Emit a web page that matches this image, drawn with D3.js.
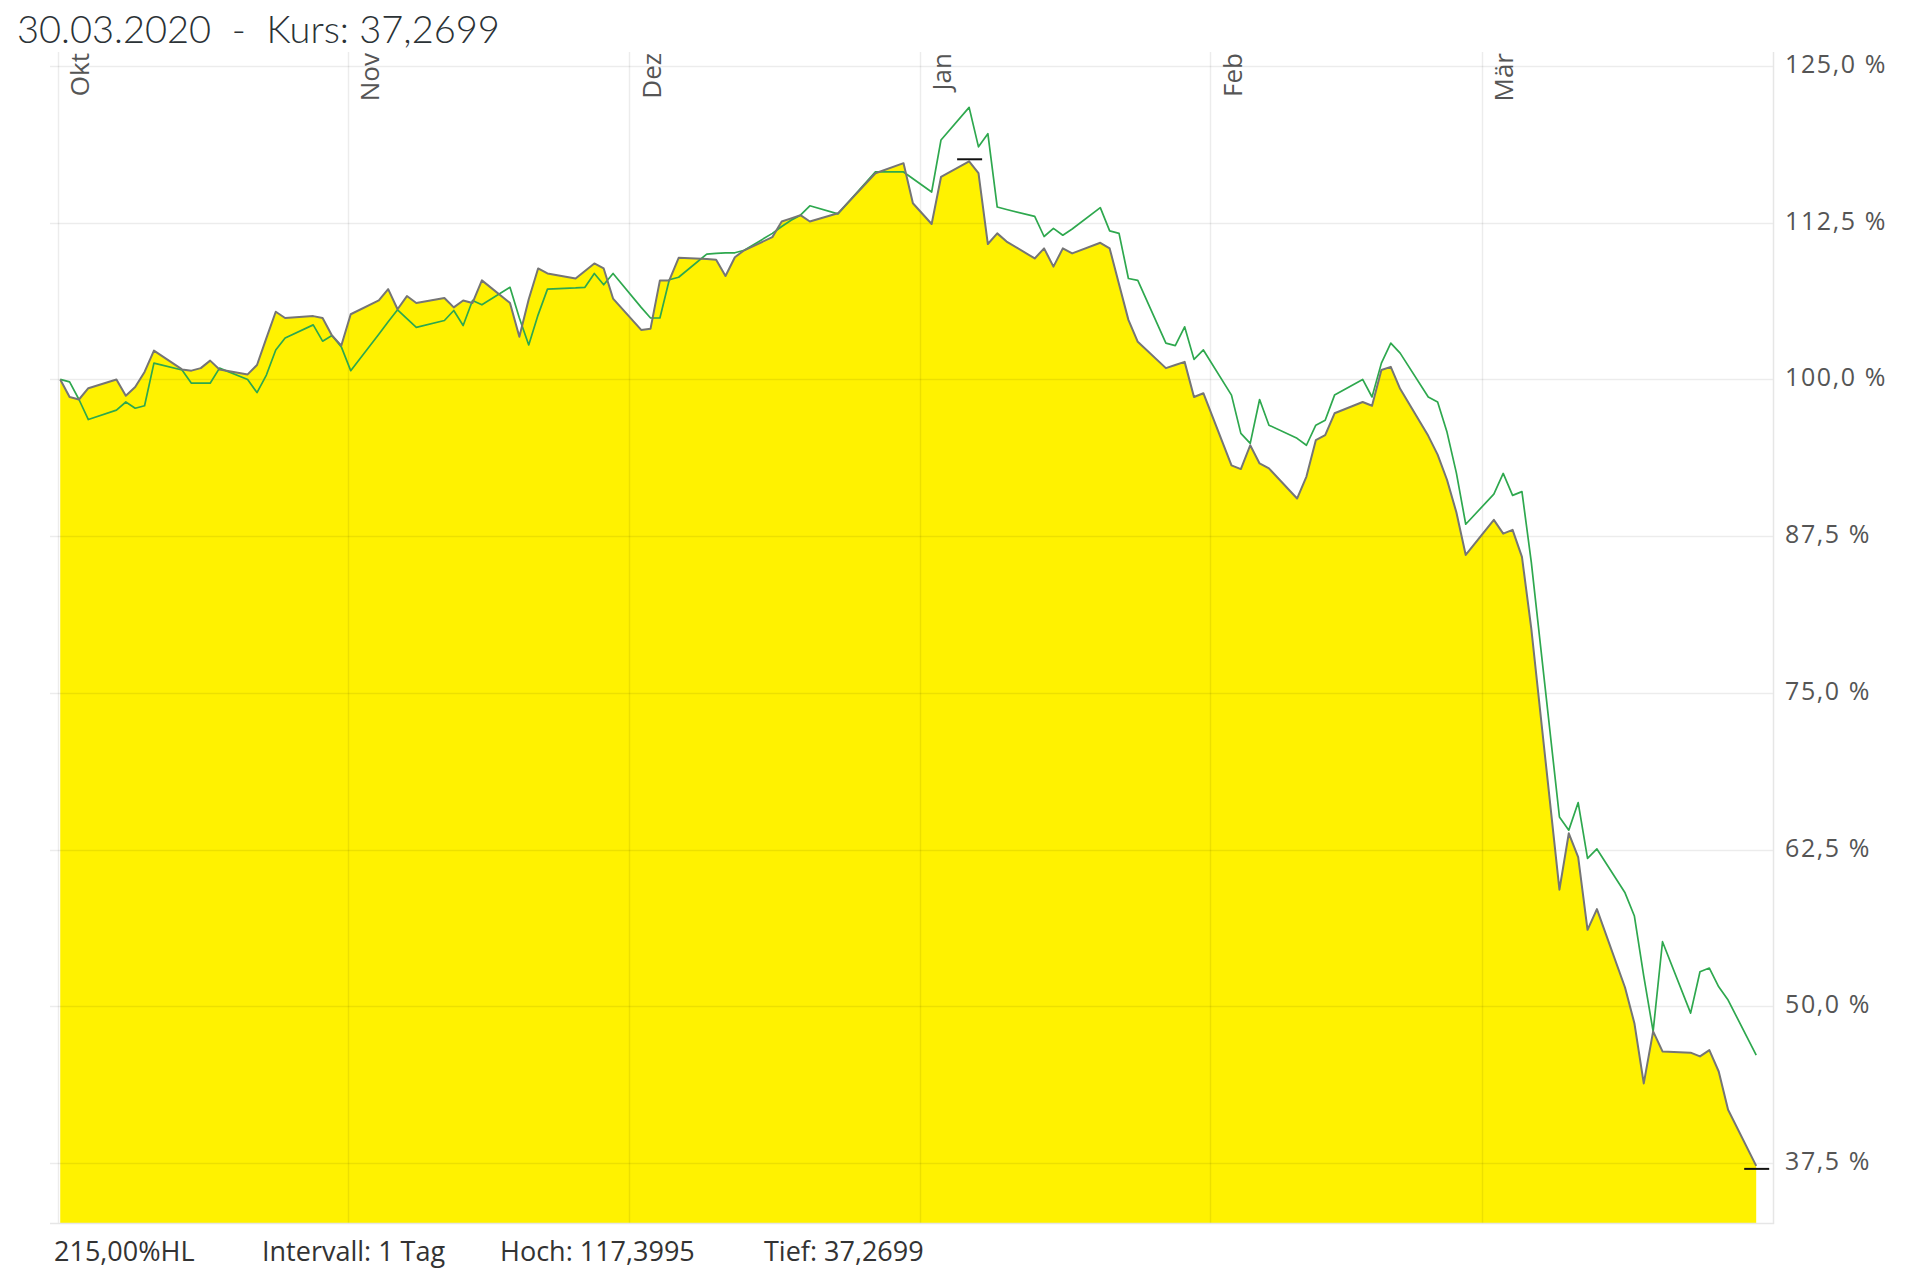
<!DOCTYPE html>
<html lang="de">
<head>
<meta charset="UTF-8">
<title>Kurs 30.03.2020</title>
<script src="https://d3js.org/d3.v7.min.js"></script>
<style>
  body { margin: 0; background: #fff; }
  .title { font-family: Lato, "Open Sans", sans-serif; font-weight: 300; font-size: 38px; fill: #2b3236; white-space: pre; }
  .ylab text { font-family: "Open Sans", sans-serif; font-size: 25px; fill: #555; letter-spacing: 1.6px; }
  .xlab text { font-family: "Open Sans", sans-serif; font-size: 26px; fill: #555; }
  .foot { font-family: "Open Sans", sans-serif; font-size: 27px; fill: #333; }
</style>
</head>
<body>
<div id="chart"></div>
<script>
// trading days, Oct 2019 - Mar 2020
const tradingDays = [
  "2019-10-01","2019-10-02","2019-10-03","2019-10-04","2019-10-07","2019-10-08","2019-10-09","2019-10-10","2019-10-11",
  "2019-10-14","2019-10-15","2019-10-16","2019-10-17","2019-10-18","2019-10-21","2019-10-22","2019-10-23","2019-10-24",
  "2019-10-25","2019-10-28","2019-10-29","2019-10-30","2019-10-31",
  "2019-11-01","2019-11-04","2019-11-05","2019-11-06","2019-11-07","2019-11-08","2019-11-11","2019-11-12","2019-11-13",
  "2019-11-14","2019-11-15","2019-11-18","2019-11-19","2019-11-20","2019-11-21","2019-11-22","2019-11-25","2019-11-26",
  "2019-11-27","2019-11-28","2019-11-29",
  "2019-12-02","2019-12-03","2019-12-04","2019-12-05","2019-12-06","2019-12-09","2019-12-10","2019-12-11","2019-12-12",
  "2019-12-13","2019-12-16","2019-12-17","2019-12-18","2019-12-19","2019-12-20","2019-12-23","2019-12-27","2019-12-30",
  "2019-12-31",
  "2020-01-02","2020-01-03","2020-01-06","2020-01-07","2020-01-08","2020-01-09","2020-01-10","2020-01-13","2020-01-14",
  "2020-01-15","2020-01-16","2020-01-17","2020-01-20","2020-01-21","2020-01-22","2020-01-23","2020-01-24","2020-01-27",
  "2020-01-28","2020-01-29","2020-01-30","2020-01-31",
  "2020-02-03","2020-02-04","2020-02-05","2020-02-06","2020-02-07","2020-02-10","2020-02-11","2020-02-12","2020-02-13",
  "2020-02-14","2020-02-17","2020-02-18","2020-02-19","2020-02-20","2020-02-21","2020-02-24","2020-02-25","2020-02-26",
  "2020-02-27","2020-02-28",
  "2020-03-02","2020-03-03","2020-03-04","2020-03-05","2020-03-06","2020-03-09","2020-03-10","2020-03-11","2020-03-12",
  "2020-03-13","2020-03-16","2020-03-17","2020-03-18","2020-03-19","2020-03-20","2020-03-23","2020-03-24","2020-03-25",
  "2020-03-26","2020-03-27","2020-03-30"
];

// Kurs in % (yellow area, grey line)
const kurs = [
  100.0, 98.6, 98.4, 99.3, 100.0, 98.7, 99.4, 100.6, 102.3, 100.8, 100.7, 100.9, 101.5, 100.8, 100.4, 101.15, 103.3, 105.4,
  104.9, 105.05, 104.9, 103.5, 102.7,
  105.2, 106.3, 107.2, 105.6, 106.65, 106.1, 106.5, 105.75, 106.3, 106.1, 107.9, 106.1, 103.4, 106.4, 108.85, 108.45, 108.05,
  108.65, 109.25, 108.85, 106.45,
  103.95, 104.05, 107.9, 107.9, 109.7, 109.6, 109.55, 108.25, 109.75, 110.3, 111.35, 112.6, 112.85, 113.1, 112.6, 113.25,
  116.45, 117.25, 114.05,
  112.4, 116.15, 117.3995, 116.45, 110.8, 111.65, 111.0, 109.65, 110.45, 109.0, 110.45, 110.05, 110.9, 110.45, 107.6, 104.75,
  103.0, 100.9, 101.15, 101.4, 98.6, 98.9,
  93.15, 92.85, 94.75, 93.3, 92.9, 90.5, 92.25, 95.15, 95.55, 97.3, 98.2, 97.9, 100.75, 101.0, 99.25, 95.5, 94.0, 92.0,
  89.4, 86.0,
  88.8, 87.7, 88.0, 85.85, 80.1, 59.3, 63.8, 61.9, 56.1, 57.75, 51.5, 48.65, 43.85, 48.0, 46.4, 46.3, 46.0, 46.5,
  44.8, 41.75, 37.2699
];

// comparison line (green), no quote on 31.12.
const vergleich = [
  100.0, 99.8, 98.4, 96.8, 97.55, 98.2, 97.7, 97.9, 101.3, 100.75, 99.7, 99.7, 99.7, 100.9, 100.0, 98.95, 100.35, 102.35,
  103.3, 104.35, 103.05, 103.5, 102.6,
  100.7, 103.6, 104.6, 105.55, 104.85, 104.15, 104.7, 105.5, 104.3, 106.3, 105.95, 107.35, 104.9, 102.75, 105.15, 107.2, 107.3,
  107.35, 108.45, 107.55, 108.45,
  105.75, 104.9, 104.9, 107.95, 108.15, 110.0, 110.05, 110.1, 110.1, 110.3, 111.65, 112.2, 112.7, 113.1, 113.85, 113.2,
  116.55, 116.55, null,
  114.95, 119.1, 121.7, 118.55, 119.6, 113.75, 113.55, 113.0, 111.4, 112.05, 111.5, 112.0, 113.7, 111.85, 111.65, 108.05,
  107.9, 102.9, 102.7, 104.2, 101.6, 102.35,
  98.75, 95.7, 94.9, 98.4, 96.35, 95.3, 94.75, 96.35, 96.75, 98.75, 100.0, 98.6, 101.3, 102.9, 102.1, 98.6, 98.2, 95.8,
  92.55, 88.45,
  90.85, 92.5, 90.75, 91.05, 85.4, 65.1, 64.05, 66.25, 61.8, 62.55, 59.05, 57.2, 52.4, 48.0, 55.15, 49.45, 52.75, 53.05,
  51.55, 50.5, 46.1
];

const monthStarts = ["2019-10-01", "2019-11-01", "2019-12-01", "2020-01-01", "2020-02-01", "2020-03-01"];
const monthLabels = ["Okt", "Nov", "Dez", "Jan", "Feb", "Mär"];
const yTicks = [37.5, 50, 62.5, 75, 87.5, 100, 112.5, 125];

const titleText = "30.03.2020  -  Kurs: 37,2699";
const footer = ["215,00%HL", "Intervall: 1 Tag", "Hoch: 117,3995", "Tief: 37,2699"];
const footerX = [54, 262, 500, 764];

const width = 1919, height = 1281;
const plot = { left: 50, right: 1773, top: 52, bottom: 1223 };

const parse = d3.utcParse("%Y-%m-%d");
// quotes are stamped in the morning, a bit right of the month line
const data = tradingDays.map((s, i) => ({
  date: d3.utcHour.offset(parse(s), 7),
  kurs: kurs[i],
  vergleich: vergleich[i]
}));

const x = d3.scaleUtc()
  .domain([parse("2019-10-01"), parse("2020-03-31")])
  .range([57.5, 57.5 + 182 * 9.37]);

const y = d3.scaleLinear()
  .domain([37.5, 125])
  .range([1163, 66]);

const de = d3.formatLocale({ decimal: ",", thousands: ".", grouping: [3], currency: ["", " €"] });
const fmt = de.format(".1f");

const svg = d3.select("#chart").append("svg")
  .attr("width", width)
  .attr("height", height);

// yellow area under the quote
svg.append("path")
  .datum(data)
  .attr("fill", "#fff200")
  .attr("d", d3.area()
    .x(d => x(d.date))
    .y0(plot.bottom)
    .y1(d => y(d.kurs)));

// grid, drawn over the area so it shows faintly through the yellow
const grid = svg.append("g")
  .attr("stroke", "rgba(0,0,0,0.075)")
  .attr("stroke-width", 1.5)
  .attr("fill", "none");

grid.selectAll(".hgrid")
  .data(yTicks)
  .enter().append("line")
  .attr("x1", plot.left).attr("x2", plot.right)
  .attr("y1", d => Math.round(y(d)) + 0.5)
  .attr("y2", d => Math.round(y(d)) + 0.5);

grid.selectAll(".vgrid")
  .data(monthStarts)
  .enter().append("line")
  .attr("x1", d => Math.round(x(parse(d))) + 0.5)
  .attr("x2", d => Math.round(x(parse(d))) + 0.5)
  .attr("y1", plot.top).attr("y2", plot.bottom);

// frame right and bottom
svg.append("path")
  .attr("fill", "none")
  .attr("stroke", "#e6e6e6")
  .attr("stroke-width", 1.5)
  .attr("d", `M${plot.right + 0.5},${plot.top}V${plot.bottom + 0.5}H${plot.left}`);

// comparison line
svg.append("path")
  .datum(data.filter(d => d.vergleich != null))
  .attr("fill", "none")
  .attr("stroke", "#2ea84e")
  .attr("stroke-width", 1.7)
  .attr("stroke-linejoin", "round")
  .attr("d", d3.line().x(d => x(d.date)).y(d => y(d.vergleich)));

// quote line
svg.append("path")
  .datum(data)
  .attr("fill", "none")
  .attr("stroke", "#757575")
  .attr("stroke-width", 2)
  .attr("stroke-linejoin", "round")
  .attr("d", d3.line().x(d => x(d.date)).y(d => y(d.kurs)));

// high / low markers (high sits just above, low just below the point)
const hi = data.reduce((a, b) => (b.kurs > a.kurs ? b : a));
const lo = data.reduce((a, b) => (b.kurs < a.kurs ? b : a));
svg.selectAll(".mark")
  .data([{ d: hi, off: -2 }, { d: lo, off: 3 }])
  .enter().append("line")
  .attr("stroke", "#111")
  .attr("stroke-width", 2)
  .attr("x1", m => x(m.d.date) - 12)
  .attr("x2", m => x(m.d.date) + 13)
  .attr("y1", m => y(m.d.kurs) + m.off)
  .attr("y2", m => y(m.d.kurs) + m.off);

// y labels on the right
const yAxis = svg.append("g")
  .attr("class", "ylab")
  .attr("transform", `translate(${plot.right},0)`)
  .call(d3.axisRight(y).tickValues(yTicks).tickSize(0).tickPadding(12).tickFormat(d => fmt(d) + " %"));
yAxis.select(".domain").remove();
yAxis.selectAll("text").attr("dy", "0.26em");

// month labels, rotated, hanging from the top
const xAxis = svg.append("g")
  .attr("class", "xlab")
  .attr("transform", `translate(0,${plot.top})`)
  .call(d3.axisTop(x).tickValues(monthStarts.map(parse)).tickSize(0).tickFormat((d, i) => monthLabels[i]));
xAxis.select(".domain").remove();
xAxis.selectAll("text")
  .attr("transform", "rotate(-90)")
  .attr("text-anchor", "end")
  .attr("x", -1)
  .attr("y", 31)
  .attr("dy", 0);

svg.append("text")
  .attr("class", "title")
  .attr("x", 17)
  .attr("y", 43)
  .text(titleText);

svg.selectAll(".foot")
  .data(footer)
  .enter().append("text")
  .attr("class", "foot")
  .attr("x", (d, i) => footerX[i])
  .attr("y", 1261)
  .text(d => d);
</script>
</body>
</html>
